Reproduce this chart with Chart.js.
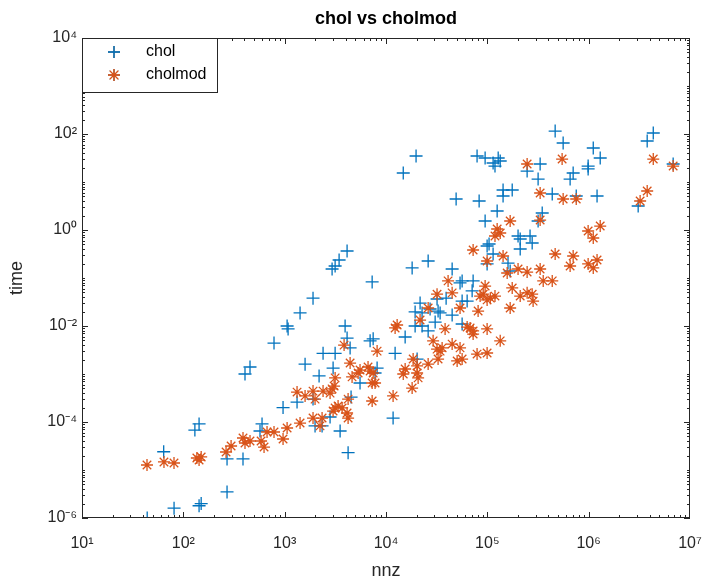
<!DOCTYPE html>
<html>
<head>
<meta charset="utf-8">
<script src="https://cdn.jsdelivr.net/npm/chart.js@4.4.1/dist/chart.umd.min.js"></script>
<style>
  html, body { margin: 0; padding: 0; background: #fff; }
  #wrap { width: 703px; height: 583px; }
</style>
</head>
<body>
<div id="wrap"><canvas id="chart" width="703" height="583"></canvas></div>
<script>
const cholNnz = [
  44, 81, 143, 150, 270, 64, 270, 388, 130, 143, 571, 598, 964, 1325, 1905, 1995, 2340, 2806, 3525, 4227,
  4522, 5543, 7800, 8170, 2186, 1590, 3006, 2393, 3147, 4424, 3948, 4130, 6970, 7470, 1057, 1081, 1419, 1905, 785, 406,
  455, 4130, 3445, 3147, 2938, 7300, 11750, 12300, 15450, 19380, 22700, 26060, 30550, 19380, 34200, 44950, 56400, 20280, 18110, 26060,
  44950, 53800, 56400, 72400, 56400, 63200, 70800, 39200, 31900, 21700, 27230, 32660, 22700, 99500, 99500, 104000, 114000, 160000, 168000, 125000,
  95100, 201000, 211000, 264000, 277000, 211000, 348000, 317000, 143000, 176000, 143000, 83000, 49200, 437000, 754000, 1.21e6, 317000, 656000, 703000, 988000,
  988000, 1.30e6, 1.11e6, 467000, 560000, 332000, 247000, 79200, 95100, 114000, 128000, 134000, 119000, 19800, 14800, 3.78e6, 4.34e6, 6.82e6, 3.08e6
];
const cholTime = [
  1.0e-6, 1.6e-6, 1.8e-6, 2.0e-6, 3.5e-6, 2.4e-5, 1.7e-5, 1.7e-5, 6.8e-5, 9.1e-5, 6.5e-5, 9.1e-5, 2.0e-4, 2.6e-4, 3.0e-4, 8.3e-5, 8.3e-5, 1.27e-4, 6.5e-5, 2.3e-5,
  3.3e-4, 6.5e-4, 1.05e-3, 1.33e-3, 9.1e-4, 1.6e-3, 1.33e-3, 2.7e-3, 2.7e-3, 3.5e-3, 1.0e-2, 5.6e-3, 4.9e-3, 5.4e-3, 1.0e-2, 8.7e-3, 1.87e-2, 3.8e-2, 4.4e-3, 1.0e-3,
  1.4e-3, 0.365, 0.237, 0.178, 0.154, 0.083, 1.21e-4, 2.7e-3, 5.9e-3, 1.0e-2, 1.0e-2, 7.9e-3, 1.21e-2, 1.96e-2, 1.87e-2, 1.69e-2, 1.1e-2, 2.05e-3, 0.162, 0.226,
  0.154, 0.079, 0.087, 0.087, 0.033, 0.033, 0.054, 0.038, 0.0365, 0.030, 0.0226, 0.0205, 0.0187, 0.196, 0.464, 0.511, 0.316, 0.205, 0.140, 2.49,
  1.54, 0.75, 0.649, 0.75, 0.536, 0.402, 2.26, 1.54, 6.81, 6.81, 5.11, 4.02, 4.42, 5.62, 5.11, 5.11, 11.5, 11.5, 15.4, 21.5,
  18.7, 31.6, 51.1, 115, 64.9, 23.7, 16.9, 34.8, 31.6, 24.9, 31.6, 27.4, 21.5, 34.8, 15.4, 71.4, 105, 23.7, 3.16
];
const cholmodNnz = [
  43.8, 64.4, 80.9, 136, 143, 150, 264, 296, 388, 406, 455, 585, 626, 670, 785, 964, 1057, 1419, 1905, 2340,
  2234, 3147, 3366, 3006, 3690, 4227, 4227, 4130, 1325, 1590, 1905, 1995, 2393, 2806, 2938, 3147, 3076, 3858, 4627, 5310,
  5543, 4424, 6650, 6970, 7470, 7300, 7800, 7300, 11750, 8170, 12880, 12300, 18110, 14800, 15450, 18530, 20280, 20750, 20280, 26060,
  29170, 31900, 32660, 34200, 38300, 44950, 50350, 53800, 56400, 67600, 72400, 79200, 99500, 99500, 134000, 21700, 26060, 53800, 81100, 41000,
  44950, 31900, 91000, 107000, 119000, 84900, 95100, 99500, 63200, 72400, 35800, 72400, 99500, 119000, 134000, 125000, 168000, 332000, 143000, 157000,
  201000, 247000, 332000, 356000, 437000, 176000, 211000, 247000, 277000, 283000, 168000, 467000, 703000, 656000, 988000, 1.21e6, 1.11e6, 988000, 1.30e6, 1.11e6,
  560000, 754000, 332000, 247000, 547000, 4.34e6, 6.82e6, 3.78e6, 3.22e6
];
const cholmodTime = [
  1.27e-5, 1.47e-5, 1.40e-5, 1.78e-5, 1.61e-5, 1.87e-5, 2.37e-5, 3.16e-5, 4.64e-5, 3.65e-5, 4.02e-5, 4.02e-5, 3.01e-5, 6.19e-5, 6.19e-5, 4.42e-5, 7.5e-5, 9.5e-5, 1.21e-4, 1.21e-4,
  8.3e-5, 1.96e-4, 2.15e-4, 1.69e-4, 1.96e-4, 3.0e-4, 1.21e-4, 1.54e-4, 4.2e-4, 3.5e-4, 4.4e-4, 3.0e-4, 4.4e-4, 4.0e-4, 4.9e-4, 8.3e-4, 5.6e-4, 4.0e-3, 8.7e-4, 1.05e-3,
  1.21e-3, 1.69e-3, 1.4e-3, 1.15e-3, 1.05e-3, 6.5e-4, 6.5e-4, 2.74e-4, 3.5e-4, 3.0e-3, 1.05e-2, 9.1e-3, 5.1e-4, 1.0e-3, 1.27e-3, 2.05e-3, 1.47e-3, 8.3e-4, 1.05e-3, 1.61e-3,
  4.9e-3, 3.3e-3, 2.05e-3, 3.0e-3, 8.7e-3, 4.2e-3, 1.87e-3, 3.5e-3, 2.05e-3, 9.1e-3, 6.8e-3, 2.6e-3, 2.74e-3, 8.7e-3, 4.9e-3, 1.33e-2, 2.37e-2, 2.37e-2, 2.05e-2, 8.7e-2,
  4.9e-2, 4.6e-2, 4.6e-2, 3.8e-2, 4.2e-2, 4.2e-2, 6.8e-2, 3.5e-2, 9.5e-3, 7.9e-3, 3.5e-3, 0.383, 0.226, 0.75, 0.866, 1.05, 1.54, 1.61, 0.287, 0.127,
  0.154, 0.133, 0.154, 0.087, 0.087, 0.062, 0.042, 0.049, 0.046, 0.033, 0.0237, 0.316, 0.287, 0.178, 0.196, 0.237, 0.162, 0.953, 1.21, 0.681,
  4.42, 4.42, 5.9, 23.7, 30.1, 30.1, 21.5, 6.49, 4.02
];

const xTickValues = [1e1, 1e2, 1e3, 1e4, 1e5, 1e6, 1e7];
const xTickLabels = ['10¹', '10²', '10³', '10⁴', '10⁵', '10⁶', '10⁷'];
const yTickValues = [1e-6, 1e-4, 1e-2, 1e0, 1e2, 1e4];
const yTickLabels = ['10⁻⁶', '10⁻⁴', '10⁻²', '10⁰', '10²', '10⁴'];

const seriesNames = ['chol', 'cholmod'];
const titleText = 'chol vs cholmod';

const BLUE = '#0072BD';
const ORANGE = '#D95319';
const INK = '#262626';
const FONT = '"Liberation Sans", Arial, Helvetica, sans-serif';

function toPoints(xs, ys) {
  return xs.map((v, i) => ({ x: v, y: ys[i] }));
}

// box, inward ticks, legend and title, MATLAB style
const matlabAxes = {
  id: 'matlabAxes',
  afterDraw(chart) {
    const ctx = chart.ctx;
    const a = chart.chartArea;
    const xs = chart.scales.x;
    const ys = chart.scales.y;
    ctx.save();
    ctx.strokeStyle = INK;
    ctx.lineWidth = 1;

    ctx.beginPath();
    // minor and major ticks on x
    for (let d = 1; d < 7; d++) {
      for (let m = 1; m < 10; m++) {
        const v = m * Math.pow(10, d);
        const px = Math.round(xs.getPixelForValue(v)) + 0.5;
        const len = m === 1 ? 6 : 3;
        ctx.moveTo(px, a.bottom); ctx.lineTo(px, a.bottom - len);
        ctx.moveTo(px, a.top); ctx.lineTo(px, a.top + len);
      }
    }
    // minor and major ticks on y
    for (let d = -6; d < 4; d++) {
      for (let m = 1; m < 10; m++) {
        const v = m * Math.pow(10, d);
        const py = Math.round(ys.getPixelForValue(v)) + 0.5;
        const len = (m === 1 && yTickValues.includes(v)) ? 6 : 3;
        ctx.moveTo(a.left, py); ctx.lineTo(a.left + len, py);
        ctx.moveTo(a.right, py); ctx.lineTo(a.right - len, py);
      }
    }
    ctx.stroke();

    ctx.strokeRect(a.left + 0.5, a.top + 0.5, a.right - a.left - 1, a.bottom - a.top - 1);

    // legend
    const lx = a.left, ly = a.top, lw = 135, lh = 54;
    ctx.fillStyle = '#fff';
    ctx.fillRect(lx + 1, ly + 1, lw, lh);
    ctx.strokeRect(lx + 0.5, ly + 0.5, lw, lh);
    const ds = chart.data.datasets;
    [14, 37].forEach((dy, i) => {
      Chart.helpers.drawPoint(ctx, {
        pointStyle: ds[i].pointStyle,
        radius: 6,
        rotation: 0,
        borderWidth: 1.3
      }, lx + 32, ly + dy);
      ctx.strokeStyle = ds[i].borderColor;
      ctx.lineWidth = 1.3;
      ctx.stroke();
      ctx.strokeStyle = INK;
      ctx.lineWidth = 1;
      ctx.fillStyle = '#000';
      ctx.font = '16px ' + FONT;
      ctx.textBaseline = 'middle';
      ctx.textAlign = 'left';
      ctx.fillText(seriesNames[i], lx + 64, ly + dy);
    });

    // title centred on the axes
    ctx.fillStyle = '#000';
    ctx.font = 'bold 18px ' + FONT;
    ctx.textAlign = 'center';
    ctx.textBaseline = 'middle';
    ctx.fillText(titleText, (a.left + a.right) / 2, 19);
    ctx.restore();
  }
};

const chart = new Chart(document.getElementById('chart'), {
  type: 'scatter',
  data: {
    datasets: [
      {
        label: seriesNames[0],
        data: toPoints(cholNnz, cholTime),
        pointStyle: 'cross',
        pointRadius: 6.5,
        borderColor: BLUE,
        backgroundColor: BLUE,
        pointBorderWidth: 1.3,
        order: 1
      },
      {
        label: seriesNames[1],
        data: toPoints(cholmodNnz, cholmodTime),
        pointStyle: 'star',
        pointRadius: 6,
        borderColor: ORANGE,
        backgroundColor: ORANGE,
        pointBorderWidth: 1.3,
        order: 0
      }
    ]
  },
  options: {
    responsive: false,
    animation: false,
    events: [],
    layout: { padding: { top: 38, right: 13, left: 0, bottom: 0 } },
    plugins: {
      legend: { display: false },
      title: { display: false },
      tooltip: { enabled: false }
    },
    scales: {
      x: {
        type: 'logarithmic',
        min: 10,
        max: 1e7,
        grid: { display: false, drawTicks: false },
        border: { display: false },
        afterBuildTicks: s => { s.ticks = xTickValues.map(v => ({ value: v, major: true })); },
        afterFit: s => { s.height = 65; s.paddingLeft = 0; s.paddingRight = 0; },
        ticks: {
          autoSkip: false,
          maxRotation: 0,
          padding: 16,
          color: INK,
          font: { family: FONT, size: 16 },
          callback: v => xTickLabels[xTickValues.indexOf(v)]
        },
        title: {
          display: true,
          text: 'nnz',
          color: INK,
          font: { family: FONT, size: 18 },
          padding: { top: 0, bottom: 1 }
        }
      },
      y: {
        type: 'logarithmic',
        min: 1e-6,
        max: 1e4,
        grid: { display: false, drawTicks: false },
        border: { display: false },
        afterBuildTicks: s => { s.ticks = yTickValues.map(v => ({ value: v, major: true })); },
        afterFit: s => { s.width = 82; },
        ticks: {
          autoSkip: false,
          padding: 5,
          color: INK,
          font: { family: FONT, size: 16 },
          callback: v => yTickLabels[yTickValues.indexOf(v)]
        },
        title: {
          display: true,
          text: 'time',
          color: INK,
          font: { family: FONT, size: 18 },
          padding: { top: 6, bottom: 0 }
        }
      }
    }
  },
  plugins: [matlabAxes]
});
</script>
</body>
</html>
